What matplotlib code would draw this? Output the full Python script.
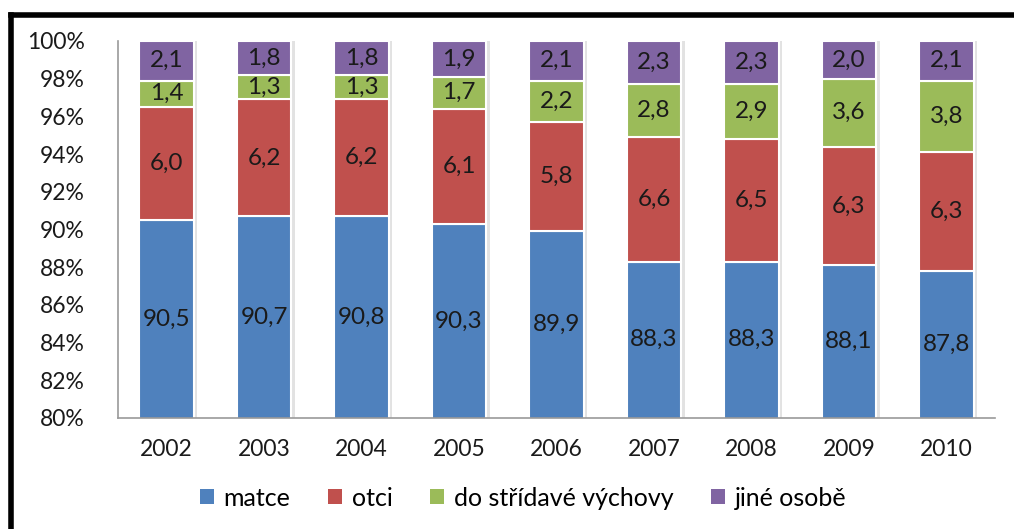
import matplotlib
matplotlib.use("Agg")
import matplotlib.pyplot as plt
from matplotlib.lines import Line2D
from matplotlib.patches import Patch
import matplotlib.patheffects as pe
import numpy as np

plt.rcParams['font.family'] = ['Lato', 'DejaVu Sans']

years = ['2002', '2003', '2004', '2005', '2006', '2007', '2008', '2009', '2010']
matce = [90.5, 90.7, 90.8, 90.3, 89.9, 88.3, 88.3, 88.1, 87.8]
otci = [6.0, 6.2, 6.2, 6.1, 5.8, 6.6, 6.5, 6.3, 6.3]
stridava = [1.4, 1.3, 1.3, 1.7, 2.2, 2.8, 2.9, 3.6, 3.8]
jine = [2.1, 1.8, 1.8, 1.9, 2.1, 2.3, 2.3, 2.0, 2.1]

series = [('matce', matce, '#4F81BD'),
          ('otci', otci, '#C0504D'),
          ('do střídavé výchovy', stridava, '#9BBB59'),
          ('jiné osobě', jine, '#8064A2')]

W, H = 1014, 529
fig = plt.figure(figsize=(W / 100, H / 100), dpi=100)
ax = fig.add_axes([118 / W, 1 - 418 / H, (995 - 118) / W, (418 - 41) / H])

x = np.arange(len(years))
totals = np.sum([np.array(s[1]) for s in series], axis=0)
bottom = np.zeros(len(years))
ymin, ymax = 80, 100
shadow = [pe.SimplePatchShadow(offset=(2.5, 0), shadow_rgbFace='#cfcfcf', alpha=0.6), pe.Normal()]
for name, vals, col in series:
    v = np.array(vals) / totals * 100
    bars = ax.bar(x, v, bottom=bottom, width=0.56, color=col, edgecolor='white',
                  linewidth=1.5, label=name, zorder=2)
    for b in bars:
        b.set_path_effects(shadow)
    for i in range(len(years)):
        lo = max(bottom[i], ymin)
        hi = bottom[i] + v[i]
        ax.text(x[i], (lo + hi) / 2, f"{vals[i]:.1f}".replace('.', ','),
                ha='center', va='center', fontsize=17.5, color='#1a1a1a', zorder=3)
    bottom += v

ax.set_xlim(-0.5, len(years) - 0.5)
ax.set_ylim(ymin, ymax)
ax.set_yticks(np.arange(80, 101, 2))
ax.set_yticklabels([f"{t}%" for t in range(80, 101, 2)])
ax.set_xticks(x)
ax.set_xticklabels(years)
ax.tick_params(axis='both', length=0, labelsize=16.5, colors='#1a1a1a')
ax.tick_params(axis='y', pad=24)
ax.tick_params(axis='x', pad=15)
for s in ['top', 'right']:
    ax.spines[s].set_visible(False)
for s in ['left', 'bottom']:
    ax.spines[s].set_color('#9a9a9a')
    ax.spines[s].set_linewidth(1.2)

handles = [Patch(facecolor=c, edgecolor='none') for _, _, c in series]
labels = [n for n, _, _ in series]
fig.legend(handles, labels, loc='center', bbox_to_anchor=(523 / W, 1 - 498 / H),
           ncol=4, frameon=False, fontsize=18, handlelength=0.55, handleheight=0.55,
           handletextpad=0.4, columnspacing=1.5)

# outer frame (left and top)
fig.add_artist(Line2D([10.5 / W, 10.5 / W], [0, 1 - 14.5 / H], color='black',
                      linewidth=4, transform=fig.transFigure, solid_capstyle='projecting'))
fig.add_artist(Line2D([10.5 / W, 1], [1 - 14.5 / H, 1 - 14.5 / H], color='black',
                      linewidth=4, transform=fig.transFigure, solid_capstyle='projecting'))

fig.savefig('out.png', dpi=100)
